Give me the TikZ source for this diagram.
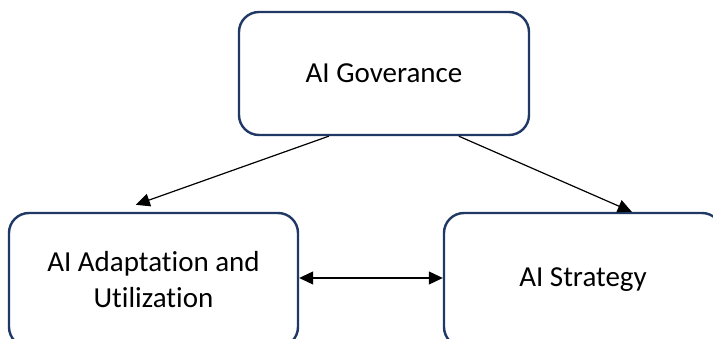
\documentclass[tikz,border=0pt]{standalone}
\usepackage{fontspec}
\setmainfont{Carlito}[Ligatures=NoCommon]
\usetikzlibrary{arrows.meta}
\definecolor{boxline}{HTML}{1F3864}
\begin{document}
\begin{tikzpicture}[x=1pt,y=1pt,
  card/.style={draw=boxline, line width=2.4pt, rounded corners=20pt,
    fill=white, inner sep=0pt, align=center,
    font=\fontsize{29}{36}\selectfont},
  link/.style={line width=1.2pt, -{Triangle[length=14pt,width=13pt]}},
  twoway/.style={line width=1.2pt, {Triangle[length=14pt,width=13pt]}-{Triangle[length=14pt,width=13pt]}}]
  \useasboundingbox (0,0) rectangle (713,339);
  \clip (0,0) rectangle (713,339);

  % the three boxes
  \node[card, minimum width=290pt, minimum height=123pt] (gov) at (384,265.5) {AI Goverance};
  \node[card, minimum width=289pt, minimum height=134pt] (adapt) at (153.5,59) {AI Adaptation and\\Utilization};
  \node[card, minimum width=278pt, minimum height=134pt] (strat) at (583,59) {AI Strategy};

  % connector end points on the box edges
  \coordinate (g1) at ([xshift=91pt]gov.south west);
  \coordinate (g2) at ([xshift=221pt]gov.south west);
  \coordinate (a1) at ([xshift=128pt,yshift=7pt]adapt.north west);
  \coordinate (s1) at ([xshift=189pt]strat.north west);
  \coordinate (ae) at ([yshift=2pt]adapt.east);
  \coordinate (sw) at ([yshift=2pt]strat.west);

  \draw[link] (g1) -- (a1);
  \draw[link] (g2) -- (s1);
  \draw[twoway] (ae) -- (sw);
\end{tikzpicture}
\end{document}
